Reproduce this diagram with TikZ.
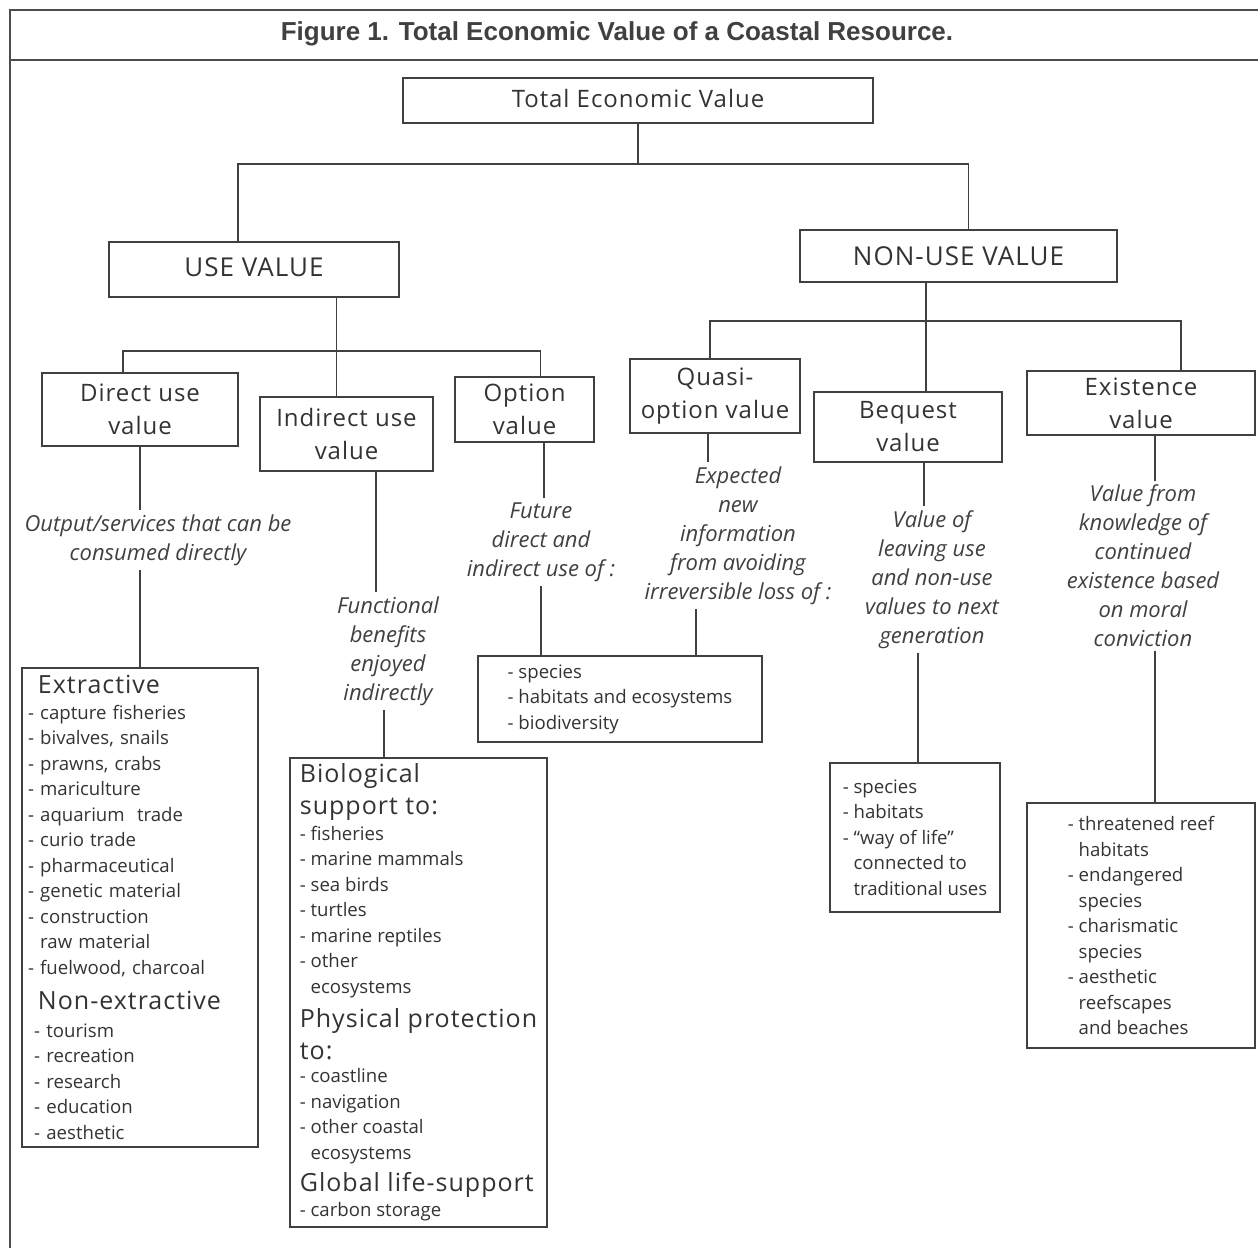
\documentclass[tikz,border=0pt]{standalone}
\usepackage{fontspec}
\setmainfont{Open Sans}
\newfontfamily\figfont{Liberation Sans}
\newfontfamily\boxfont[LetterSpace=4]{Open Sans}
\newcommand\lhead[1]{{\boxfont\fontsize{12.5}{12.75}\selectfont #1}}
\newcommand\hang{\phantom{- }}

\begin{document}
\begin{tikzpicture}[x=0.5pt,y=-0.5pt,
  frame/.style={draw=black!70,line width=1.4pt},
  box/.style={draw=black!75,line width=1pt,align=center,inner sep=0pt,
    text=black!80,font=\boxfont\fontsize{12}{16.5}\selectfont},
  bigbox/.style={box,font=\boxfont\fontsize{13}{16.5}\selectfont},
  note/.style={align=center,inner sep=2pt,text=black!75,
    font=\itshape\fontsize{11}{14.5}\selectfont},
  listbox/.style={draw=black!75,line width=1pt,align=left,inner sep=0pt,
    text=black!80,font=\fontsize{9.3}{12.75}\selectfont},
  link/.style={draw=black!75,line width=0.9pt}]
\useasboundingbox (0,0) rectangle (1258,1248);

% frame and title
\draw[frame] (10,1248) -- (10,10) -- (1258,10);
\draw[frame] (10,60) -- (1258,60);
\node[font=\figfont\bfseries\fontsize{13}{15}\selectfont,text=black!75] (title) at (617,34)
  {Figure 1. Total Economic Value of a Coastal Resource.};

% value boxes
\node[box,minimum width=235pt,minimum height=22.5pt] (tev) at (638,100.5) {\raisebox{2pt}{Total Economic Value}};
\node[bigbox,minimum width=145pt,minimum height=27.5pt] (use) at (254,269.5) {\raisebox{2pt}{USE VALUE}};
\node[bigbox,minimum width=158.5pt,minimum height=26pt] (nonuse) at (958.5,256) {NON-USE VALUE};
\node[box,minimum width=98pt,minimum height=36.5pt] (dir) at (140,409.5) {Direct use\\value};
\node[box,minimum width=86.5pt,minimum height=37pt] (ind) at (346.5,434) {Indirect use\\value};
\node[box,minimum width=69.5pt,minimum height=32.5pt] (opt) at (524.5,409.5) {Option\\value};
\node[box,minimum width=85pt,minimum height=37pt] (qua) at (715,396) {Quasi-\\option value};
\node[box,minimum width=94pt,minimum height=35pt] (beq) at (908,427) {Bequest\\value};
\node[box,minimum width=114pt,minimum height=32pt] (exi) at (1141,403) {Existence\\value};

% descriptions
\node[note] (dirtxt) at (158,540) {Output/services that can be\\consumed directly};
\node[note] (indtxt) at (388,651) {Functional\\benefits\\enjoyed\\indirectly};
\node[note] (opttxt) at (541,542) {Future\\direct and\\indirect use of :};
\node[note] (quatxt) at (738,535.5) {Expected\\new\\information\\from avoiding\\irreversible loss of :};
\node[note] (beqtxt) at (932,579.5) {Value of\\leaving use\\and non-use\\values to next\\generation};
\node[note] (exitxt) at (1143,566) {Value from\\knowledge of\\continued\\existence based\\on moral\\conviction};

% lists
\node[listbox,inner xsep=3pt,text width=112pt,minimum height=239.5pt] (extr) at (140,907.5)
  {\lhead{\hspace*{5pt}Extractive}\\
   - capture fisheries\\
   - bivalves, snails\\
   - prawns, crabs\\
   - mariculture\\
   - aquarium\ \ trade\\
   - curio trade\\
   - pharmaceutical\\
   - genetic material\\
   - construction\\
   \hang raw material\\
   - fuelwood, charcoal\\[4.75pt]
   \lhead{\hspace*{5pt}Non-extractive}\\[1.25pt]
   \ - tourism\\
   \ - recreation\\
   \ - research\\
   \ - education\\
   \ - aesthetic};
\node[listbox,minimum width=128.5pt,minimum height=234.5pt] (bio) at (418.5,992.5)
  {\lhead{Biological}\\[3.25pt]
   \lhead{support to:}\\
   - fisheries\\
   - marine mammals\\
   - sea birds\\
   - turtles\\
   - marine reptiles\\
   - other\\
   \hang ecosystems\\[4.25pt]
   \lhead{Physical protection}\\[3.25pt]
   \lhead{to:}\\[-1pt]
   - coastline\\
   - navigation\\
   - other coastal\\
   \hang ecosystems\\[3.25pt]
   \lhead{Global life-support}\\
   - carbon storage};
\node[listbox,minimum width=142pt,minimum height=43pt] (spec) at (620,699)
  {- species\\
   - habitats and ecosystems\\
   - biodiversity};
\node[listbox,minimum width=85pt,minimum height=74.5pt] (beqlist) at (915,837.5)
  {- species\\
   - habitats\\
   - ``way of life''\\
   \hang connected to\\
   \hang traditional uses};
\node[listbox,minimum width=114pt,minimum height=122.5pt] (exilist) at (1141,925.5)
  {- threatened reef\\
   \hang habitats\\
   - endangered\\
   \hang species\\
   - charismatic\\
   \hang species\\
   - aesthetic\\
   \hang reefscapes\\
   \hang and beaches};

% tree connectors
\draw[link] (tev.south) -- ++(0,40) coordinate (top);
\draw[link] ([xshift=-8pt]use.north) |- (top) -| ([xshift=5pt]nonuse.north);
\draw[link] ([xshift=-5pt]use.south -| ind.north) -- ++(0,53) coordinate (ubar) -- ([xshift=-5pt]ind.north);
\draw[link] ([xshift=-8.5pt]dir.north) |- (ubar) -| ([xshift=8pt]opt.north);
\draw[link] ([xshift=9pt]nonuse.south -| beq.north) -- ++(0,38) coordinate (nbar) -- ([xshift=9pt]beq.north);
\draw[link] ([xshift=-2.5pt]qua.north) |- (nbar) -| ([xshift=20pt]exi.north);

% branches down to the lists
\draw[link] (dir.south) -- (dir.south |- dirtxt.north);
\draw[link] (dir.south |- dirtxt.south) -- (dir.south |- extr.north);
\draw[link] ([xshift=-6pt]indtxt.north |- ind.south) -- ([xshift=-6pt]indtxt.north);
\draw[link] ([xshift=-2pt]indtxt.south) -- ([xshift=-2pt]indtxt.south |- bio.north);
\draw[link] ([xshift=1.5pt]opttxt.north |- opt.south) -- ([xshift=1.5pt]opttxt.north);
\draw[link] (opttxt.south) -- (opttxt.south |- spec.north);
\draw[link] ([xshift=-3.5pt]qua.south) -- ([xshift=-3.5pt]qua.south |- quatxt.north);
\draw[link] ([xshift=-21pt]quatxt.south) -- ([xshift=-21pt]quatxt.south |- spec.north);
\draw[link] ([xshift=8pt]beq.south) -- ([xshift=8pt]beq.south |- beqtxt.north);
\draw[link] ([xshift=-7pt]beqtxt.south) -- ([xshift=-7pt]beqtxt.south |- beqlist.north);
\draw[link] ([xshift=7pt]exi.south) -- ([xshift=7pt]exi.south |- exitxt.north);
\draw[link] ([xshift=6pt]exitxt.south) -- ([xshift=6pt]exitxt.south |- exilist.north);
\end{tikzpicture}
\end{document}
